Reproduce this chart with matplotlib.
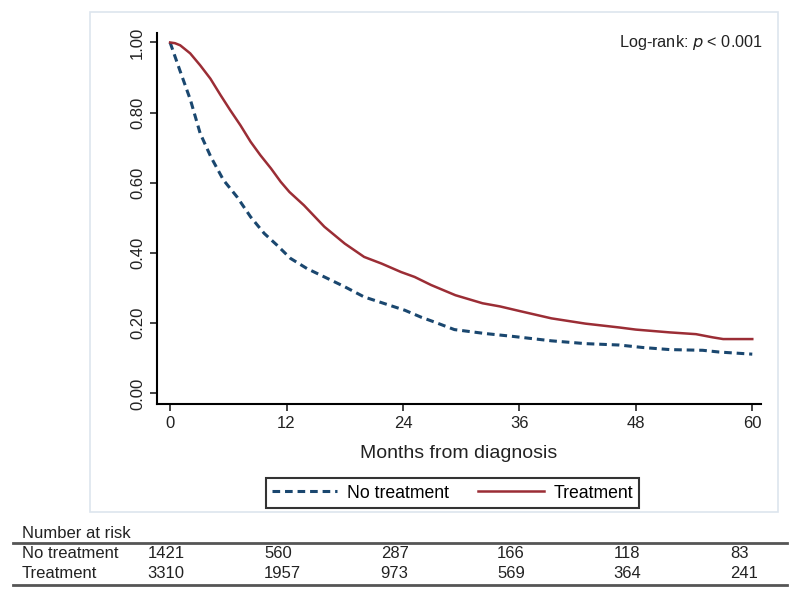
import matplotlib
matplotlib.use('Agg')
import matplotlib.pyplot as plt
import matplotlib.transforms as mtransforms
from matplotlib.patches import Rectangle

plt.rcParams['font.family'] = ['Liberation Sans', 'DejaVu Sans']

# survival estimates
no_tx_months = [0, 1.0, 2.1, 3.1, 4.2, 5.5, 6.9, 8.3, 9.7, 11.0, 12.4, 14.1, 15.9,
                18.0, 20.0, 22.1, 24.2, 25.9, 27.2, 29.3, 32.4, 35.2, 39.3, 42.8,
                46.3, 48.7, 51.5, 54.9, 56.6, 60.0]
no_tx_surv = [1.0, 0.921, 0.836, 0.741, 0.674, 0.608, 0.56, 0.503, 0.456, 0.423,
              0.385, 0.356, 0.332, 0.304, 0.275, 0.256, 0.237, 0.217, 0.204, 0.182,
              0.171, 0.163, 0.15, 0.142, 0.138, 0.131, 0.125, 0.123, 0.118, 0.112]

tx_months = [0, 0.5, 1.04, 2.07, 3.1, 4.15, 5.2, 6.2, 7.25, 8.3, 9.3, 10.4, 11.4,
             12.3, 13.8, 15.9, 18.0, 20.0, 21.8, 23.8, 25.2, 26.9, 29.4, 32.2,
             34.0, 36.0, 39.3, 42.8, 46.3, 48.0, 51.5, 54.2, 55.9, 57.0, 60.0]
tx_surv = [1.0, 0.998, 0.992, 0.969, 0.935, 0.897, 0.85, 0.807, 0.764, 0.717,
           0.679, 0.641, 0.603, 0.574, 0.536, 0.475, 0.427, 0.389, 0.37, 0.346,
           0.332, 0.309, 0.28, 0.257, 0.248, 0.235, 0.214, 0.199, 0.188, 0.182,
           0.174, 0.169, 0.16, 0.155, 0.155]

x_ticks = [0, 12, 24, 36, 48, 60]
y_ticks = [0.0, 0.2, 0.4, 0.6, 0.8, 1.0]

risk_groups = ['No treatment', 'Treatment']
risk_no_tx = [1421, 560, 287, 166, 118, 83]
risk_tx = [3310, 1957, 973, 569, 364, 241]

navy = '#1a476f'
maroon = '#9b2d35'
ink = '#222222'

fig = plt.figure(figsize=(8, 5.98), dpi=100)

# faint outer frame around the graph region
fig.patches.append(Rectangle((90 / 800, 1 - 512 / 598), 688 / 800, 500 / 598,
                             transform=fig.transFigure, fill=False,
                             edgecolor='#dde5ee', linewidth=1.2))

ax = fig.add_axes([157 / 800, 1 - 404 / 598, 604 / 800, 371 / 598])
ax.plot(no_tx_months, no_tx_surv, color=navy, lw=2.2, ls=(0, (2.5, 1.6)),
        label='No treatment')
ax.plot(tx_months, tx_surv, color=maroon, lw=1.8, label='Treatment')

ax.set_xlim(-1.35, 60.9)
ax.set_ylim(-0.03, 1.027)
ax.set_xticks(x_ticks)
ax.set_yticks(y_ticks)
ax.set_yticklabels(['%.2f' % v for v in y_ticks], rotation=90, va='center')
ax.tick_params(labelsize=12, length=5, width=1.2, colors=ink)
for s in ['top', 'right']:
    ax.spines[s].set_visible(False)
for s in ['left', 'bottom']:
    ax.spines[s].set_linewidth(1.5)
ax.set_xlabel('Months from diagnosis', fontsize=14, labelpad=10, color=ink)

fig.text(763 / 800, 1 - 43 / 598, 'Log-rank: $p$ < 0.001', ha='right',
         va='center', fontsize=11.7, color=ink)

leg = ax.legend(loc='center', bbox_to_anchor=(452.5 / 800, 1 - 493 / 598),
                bbox_transform=fig.transFigure, ncol=2, frameon=True,
                fancybox=False, fontsize=12.7, handlelength=3.7,
                handletextpad=0.55, columnspacing=1.65, borderpad=0.35,
                borderaxespad=0)
leg.get_frame().set_edgecolor('black')
leg.get_frame().set_linewidth(1.5)

# number at risk table
trans = mtransforms.blended_transform_factory(ax.transData, fig.transFigure)
fig.text(22 / 800, 1 - 533 / 598, 'Number at risk', fontsize=12, va='center',
         color=ink)
fig.add_artist(plt.Line2D([13 / 800, 787 / 800], [1 - 543 / 598] * 2,
                          transform=fig.transFigure, color='#555555', lw=2))
fig.add_artist(plt.Line2D([13 / 800, 787 / 800], [1 - 585 / 598] * 2,
                          transform=fig.transFigure, color='#555555', lw=2))
row_y = [1 - 553 / 598, 1 - 574 / 598]
for name, counts, yy in zip(risk_groups, [risk_no_tx, risk_tx], row_y):
    fig.text(22 / 800, yy, name, fontsize=12, va='center', color=ink)
    for m, c in zip(x_ticks, counts):
        ax.text(m - 2.3, yy, str(c), transform=trans, fontsize=12, va='center',
                ha='left', color=ink, clip_on=False)

fig.savefig('out.png', dpi=100)
